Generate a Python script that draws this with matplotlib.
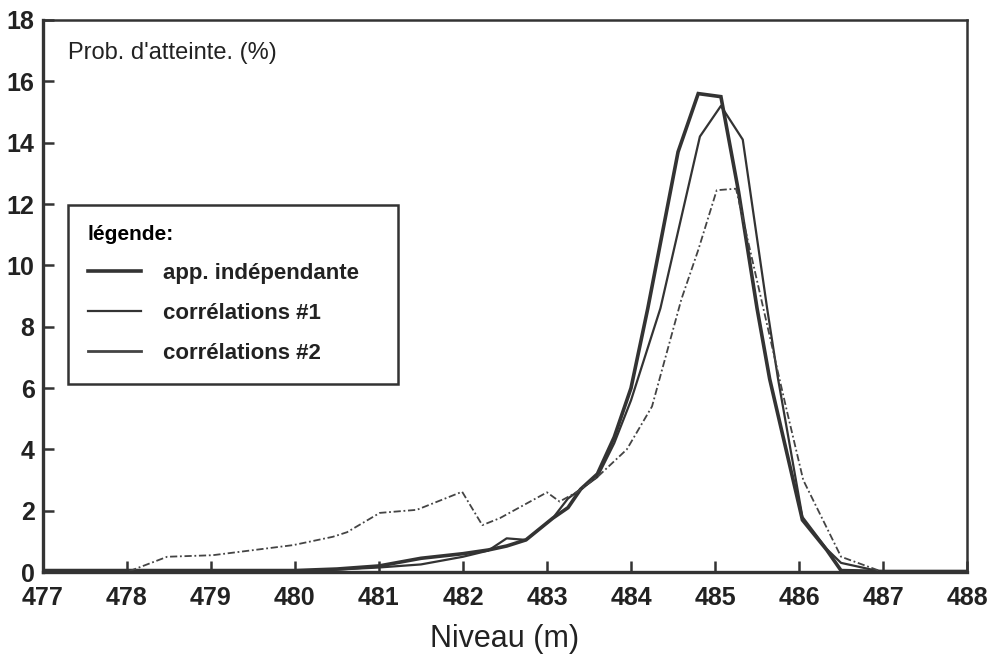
import matplotlib
matplotlib.use('Agg')
from matplotlib import pyplot as plt
from matplotlib.lines import Line2D

plt.rcParams['font.family'] = ['Liberation Sans', 'DejaVu Sans']

# app. indépendante
x_indep = [477, 478, 479, 480, 480.5, 481, 481.5, 482, 482.3, 482.52, 482.75, 483.07,
           483.25, 483.4, 483.6, 483.8, 484.0, 484.2, 484.56, 484.8, 485.07, 485.28,
           485.5, 485.65, 486.04, 486.33, 486.5, 487, 488]
y_indep = [0.05, 0.05, 0.05, 0.05, 0.1, 0.2, 0.45, 0.6, 0.72, 0.85, 1.05, 1.76,
           2.1, 2.7, 3.2, 4.4, 6.0, 8.6, 13.7, 15.6, 15.5, 12.4,
           8.6, 6.3, 1.7, 0.72, 0.05, 0.02, 0.02]

# corrélations #1
x_corr1 = [477, 478, 479, 480, 480.5, 481, 481.5, 482, 482.3, 482.52, 482.75, 483.07,
           483.25, 483.4, 483.6, 483.8, 484.0, 484.35, 484.82, 485.07, 485.33, 485.62,
           485.75, 486.04, 486.33, 486.5, 487, 488]
y_corr1 = [0.03, 0.03, 0.03, 0.03, 0.08, 0.15, 0.25, 0.5, 0.7, 1.1, 1.05, 1.76,
           2.4, 2.7, 3.1, 4.2, 5.6, 8.6, 14.2, 15.2, 14.1, 8.6,
           6.3, 1.8, 0.75, 0.3, 0.0, 0.0]

# corrélations #2
x_corr2 = [477, 478, 478.48, 479.02, 479.98, 480.45, 480.62, 481.01, 481.45, 481.99,
           482.23, 482.44, 483.0, 483.15, 483.35, 483.6, 483.95, 484.25, 484.4, 484.6,
           484.8, 485.02, 485.25, 485.5, 485.75, 485.86, 486.05, 486.5, 487, 488]
y_corr2 = [0.0, 0.0, 0.5, 0.55, 0.88, 1.15, 1.3, 1.93, 2.03, 2.62,
           1.53, 1.76, 2.6, 2.3, 2.6, 3.1, 4.0, 5.4, 6.9, 8.9,
           10.5, 12.45, 12.5, 9.5, 6.5, 5.2, 3.0, 0.5, 0.0, 0.0]

ink = '#333333'

fig = plt.figure(figsize=(9.97, 6.66), dpi=100)
ax = fig.add_axes([0.043, 0.141, 0.927, 0.829])

ax.plot(x_indep, y_indep, color=ink, lw=2.6, solid_joinstyle='miter')
ax.plot(x_corr1, y_corr1, color=ink, lw=1.6)
ax.plot(x_corr2, y_corr2, color='#444444', lw=1.3, linestyle=(0, (4, 1.5, 1, 1.5)))

ax.set_xlim(477, 488)
ax.set_ylim(0, 18)
ax.set_xticks(range(477, 489))
ax.set_yticks(range(0, 19, 2))
ax.tick_params(direction='in', length=8, width=1.8, color=ink, labelsize=18, labelcolor='#222222')
ax.tick_params(axis='x', pad=10)
ax.tick_params(axis='y', pad=6)
for lab in ax.get_xticklabels() + ax.get_yticklabels():
    lab.set_fontweight('bold')

for side in ['left', 'bottom']:
    ax.spines[side].set_linewidth(2.4)
    ax.spines[side].set_color(ink)
for side in ['top', 'right']:
    ax.spines[side].set_linewidth(1.8)
    ax.spines[side].set_color(ink)

ax.text(0.027, 0.94, "Prob. d'atteinte. (%)", transform=ax.transAxes,
        fontsize=17, color='#222222', va='center', ha='left')
ax.set_xlabel('Niveau (m)', fontsize=22, color='#222222', labelpad=10)

handles = [Line2D([], [], color=ink, lw=2.6),
           Line2D([], [], color=ink, lw=1.6),
           Line2D([], [], color='#444444', lw=2.0)]
labels = ['app. indépendante', 'corrélations #1', 'corrélations #2']
leg = ax.legend(handles, labels, loc='upper left', bbox_to_anchor=(0.027, 0.665, 0.357, 0),
                mode='expand', title='légende:', alignment='left', fancybox=False,
                edgecolor=ink, framealpha=1, fontsize=16, title_fontsize=15,
                handlelength=2.4, handletextpad=1.0, labelspacing=0.85, borderpad=0.9,
                borderaxespad=0)
leg.get_frame().set_linewidth(1.8)
leg.get_title().set_fontweight('bold')
for t in leg.get_texts():
    t.set_fontweight('bold')
    t.set_color('#222222')

fig.savefig('out.png', dpi=100)
